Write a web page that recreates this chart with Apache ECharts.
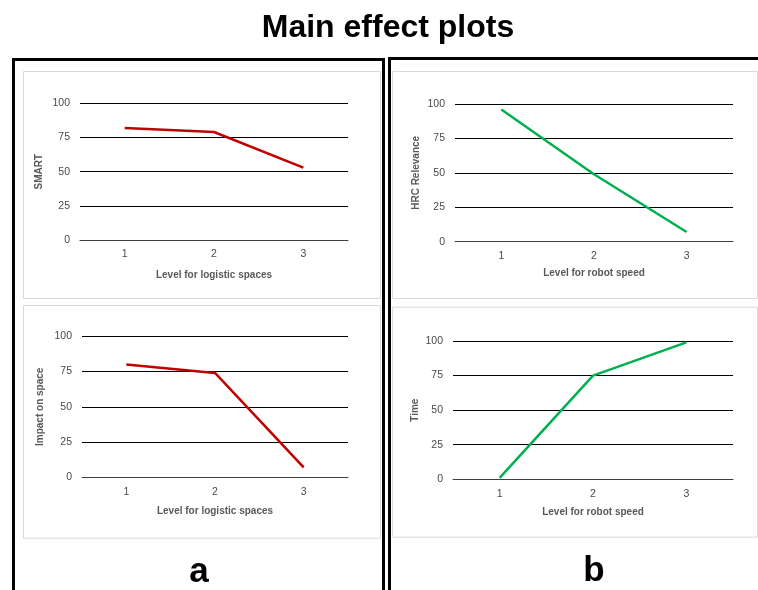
<!DOCTYPE html>
<html>
<head>
<meta charset="utf-8">
<script src="https://cdn.jsdelivr.net/npm/echarts@6/dist/echarts.min.js"></script>
<style>
html,body{margin:0;padding:0;background:#fff;}
#c{width:758px;height:590px;}
</style>
</head>
<body>
<div id="c"></div>
<script>
// ---- data ----
const levels = ['1', '2', '3'];
const smart = [82, 79, 53];
const impactOnSpace = [80, 74, 7];
const hrcRelevance = [96, 49, 7];
const timeVals = [1, 75, 99];
const yTicks = [0, 25, 50, 75, 100];

const FONT = 'Liberation Sans';
const RED = '#C00000';
const GREEN = '#00B050';

const grids = [
  {left: 80, top: 103.3, width: 268, height: 136.7},
  {left: 455, top: 104, width: 278, height: 137.7},
  {left: 82, top: 336.3, width: 266, height: 141},
  {left: 453, top: 341, width: 280, height: 138.3}
];
const xNames = ['Level for logistic spaces', 'Level for robot speed', 'Level for logistic spaces', 'Level for robot speed'];
const yNames = ['SMART', 'HRC Relevance', 'Impact on space', 'Time'];
const xGaps = [30, 27, 28.5, 28];
const yGaps = [36, 34, 37, 33];
const seriesData = [smart, hrcRelevance, impactOnSpace, timeVals];
const colors = [RED, GREEN, RED, GREEN];

const xAxis = grids.map((g, i) => ({
  type: 'category', gridIndex: i, data: levels, boundaryGap: true,
  axisTick: {show: false},
  axisLine: {show: true, lineStyle: {color: '#404040', width: 1}},
  axisLabel: {color: '#4a4a4a', fontFamily: FONT, fontSize: 10.5, margin: 9},
  name: xNames[i], nameLocation: 'middle', nameGap: xGaps[i],
  nameTextStyle: {color: '#595959', fontFamily: FONT, fontSize: 10, fontWeight: 'bold'}
}));
const yAxis = grids.map((g, i) => ({
  type: 'value', gridIndex: i, min: yTicks[0], max: yTicks[yTicks.length - 1], interval: yTicks[1] - yTicks[0],
  axisLine: {show: false}, axisTick: {show: false},
  splitLine: {show: true, lineStyle: {color: '#000', width: 1}},
  axisLabel: {color: '#4a4a4a', fontFamily: FONT, fontSize: 10.5, margin: 10},
  name: yNames[i], nameLocation: 'middle', nameGap: yGaps[i], nameRotate: 90,
  nameTextStyle: {color: '#595959', fontFamily: FONT, fontSize: 10, fontWeight: 'bold'}
}));
const series = seriesData.map((d, i) => ({
  type: 'line', xAxisIndex: i, yAxisIndex: i, data: d,
  showSymbol: false, symbol: 'none',
  lineStyle: {color: colors[i], width: 2.5}, itemStyle: {color: colors[i]},
  z: 5
}));

const boxes = [
  [23, 71, 357, 227],
  [392, 71, 365, 227],
  [23, 305, 357, 232.7],
  [392, 306.7, 365, 230]
];
const graphic = [];
boxes.forEach(b => graphic.push({
  type: 'rect', shape: {x: b[0] + 0.5, y: b[1] + 0.5, width: b[2], height: b[3]},
  style: {fill: '#fff', stroke: '#D9D9D9', lineWidth: 1}, z: -10, silent: true
}));
graphic.push({type: 'rect', shape: {x: 13.5, y: 59.5, width: 370, height: 600},
  style: {fill: null, stroke: '#000', lineWidth: 3}, z: 10, silent: true});
graphic.push({type: 'rect', shape: {x: 389.5, y: 58.5, width: 420, height: 600},
  style: {fill: null, stroke: '#000', lineWidth: 3}, z: 10, silent: true});
graphic.push({type: 'text', z: 10,
  style: {text: 'Main effect plots', x: 388, y: 44, textAlign: 'center', textVerticalAlign: 'bottom',
    font: 'bold 32px "Liberation Sans"', fill: '#000'}});
graphic.push({type: 'text', z: 10, style: {text: 'a', x: 199, y: 590, textAlign: 'center', textVerticalAlign: 'bottom',
    font: 'bold 35px "Liberation Sans"', fill: '#000'}});
graphic.push({type: 'text', z: 10, style: {text: 'b', x: 594, y: 589, textAlign: 'center', textVerticalAlign: 'bottom',
    font: 'bold 35px "Liberation Sans"', fill: '#000'}});

const chart = echarts.init(document.getElementById('c'), null, {renderer: 'canvas'});
chart.setOption({
  animation: false,
  backgroundColor: '#fff',
  grid: grids.map(g => Object.assign({containLabel: false}, g)),
  xAxis: xAxis,
  yAxis: yAxis,
  series: series,
  graphic: graphic
});
</script>
</body>
</html>
